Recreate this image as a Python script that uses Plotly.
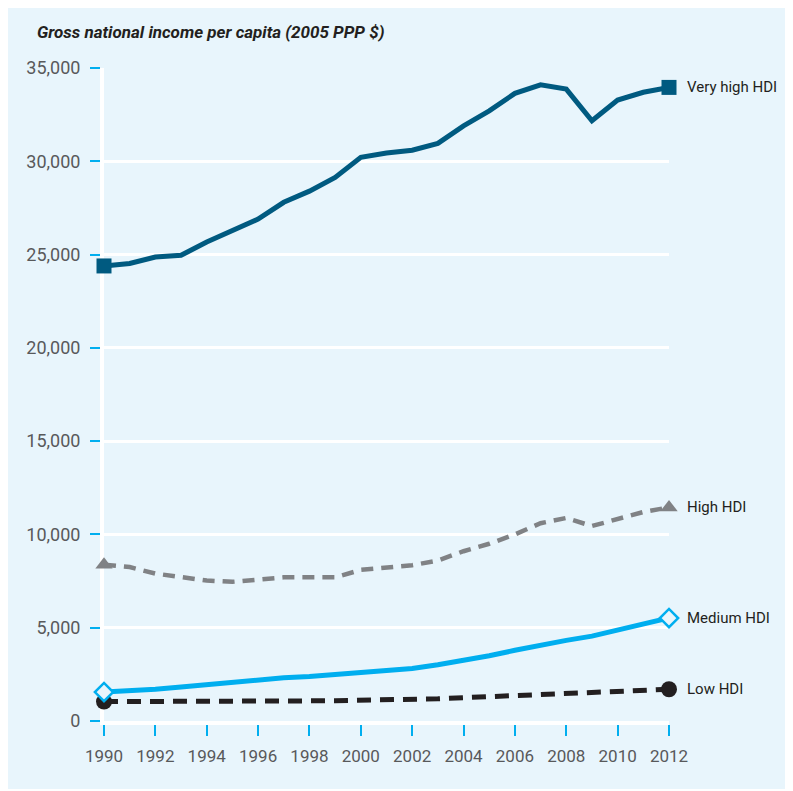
import plotly.graph_objects as go

years = list(range(1990, 2013))

very_high = [24390, 24520, 24870, 24960, 25670, 26260, 26900, 27800, 28400, 29130,
             30210, 30440, 30590, 30960, 31900, 32700, 33640, 34100, 33870, 32170,
             33280, 33700, 33960]
high = [8380, 8250, 7900, 7700, 7530, 7460, 7550, 7700, 7700, 7700,
        8100, 8200, 8350, 8600, 9100, 9500, 10000, 10600, 10880, 10450,
        10850, 11200, 11450]
medium = [1550, 1600, 1700, 1820, 1960, 2100, 2230, 2320, 2380, 2480,
          2600, 2700, 2820, 3020, 3240, 3500, 3790, 4080, 4320, 4550,
          4880, 5200, 5520]
low = [1040, 1040, 1030, 1020, 1020, 1030, 1050, 1060, 1080, 1090,
       1100, 1120, 1150, 1190, 1250, 1310, 1380, 1440, 1500, 1550,
       1600, 1650, 1700]

series_names = ["Low HDI", "High HDI", "Medium HDI", "Very high HDI"]
y_ticks = [0, 5000, 10000, 15000, 20000, 25000, 30000, 35000]
y_tick_text = ["0", "5,000", "10,000", "15,000", "20,000", "25,000", "30,000", "35,000"]
x_ticks = list(range(1990, 2013, 2))
title_text = "Gross national income per capita (2005 PPP $)"

FONT = "Roboto, sans-serif"
BG = "#e8f5fc"
CYAN = "#00aeef"

styles = {
    "Low HDI": dict(color="#231f20", dash="14px,9px", width=5,
                    marker=dict(symbol="circle", size=16, color="#231f20")),
    "High HDI": dict(color="#808285", dash="12px,8px", width=4.5,
                     marker=dict(symbol="triangle-up", size=15, color="#808285")),
    "Medium HDI": dict(color=CYAN, dash="solid", width=5,
                       marker=dict(symbol="diamond", size=14, color=BG,
                                   line=dict(color=CYAN, width=2.5))),
    "Very high HDI": dict(color="#005a80", dash="solid", width=5,
                          marker=dict(symbol="square", size=15, color="#005a80")),
}
data = {"Low HDI": low, "High HDI": high, "Medium HDI": medium, "Very high HDI": very_high}

fig = go.Figure()
for name in series_names:
    st = styles[name]
    vals = data[name]
    fig.add_trace(go.Scatter(x=years, y=vals, mode="lines",
                             line=dict(color=st["color"], width=st["width"], dash=st["dash"]),
                             cliponaxis=False, showlegend=False, hoverinfo="skip"))
    fig.add_trace(go.Scatter(x=[years[0], years[-1]], y=[vals[0], vals[-1]], mode="markers",
                             marker=st["marker"], cliponaxis=False, showlegend=False,
                             hoverinfo="skip"))
    fig.add_annotation(x=years[-1], y=vals[-1], text=name, showarrow=False,
                       xanchor="left", yanchor="middle", xshift=16,
                       font=dict(family=FONT, size=15, color="#231f20"))

fig.add_annotation(xref="paper", yref="paper", x=-0.122, y=1.055, text="<b><i>" + title_text + "</i></b>",
                   showarrow=False, xanchor="left", yanchor="middle",
                   font=dict(family=FONT, size=17, color="#231f20"))

fig.update_layout(
    width=785, height=781,
    margin=dict(l=96, r=124, t=60, b=68),
    paper_bgcolor=BG, plot_bgcolor=BG,
    xaxis=dict(range=[1990, 2012], tickvals=x_ticks, ticktext=[str(v) for v in x_ticks],
               showgrid=False, zeroline=False, showline=True, linecolor="white", linewidth=4,
               ticks="outside", ticklen=11, tickwidth=2, tickcolor=CYAN,
               ticklabelstandoff=6, layer="below traces",
               tickfont=dict(family=FONT, size=17, color="#58595b")),
    yaxis=dict(range=[0, 35000], tickvals=y_ticks, ticktext=y_tick_text,
               showgrid=True, gridcolor="white", gridwidth=3, zeroline=False,
               showline=True, linecolor="white", linewidth=4,
               ticks="outside", ticklen=10, tickwidth=2, tickcolor=CYAN,
               ticklabelstandoff=6, layer="below traces",
               tickfont=dict(family=FONT, size=18, color="#58595b")),
)

fig.write_html("out.html")
